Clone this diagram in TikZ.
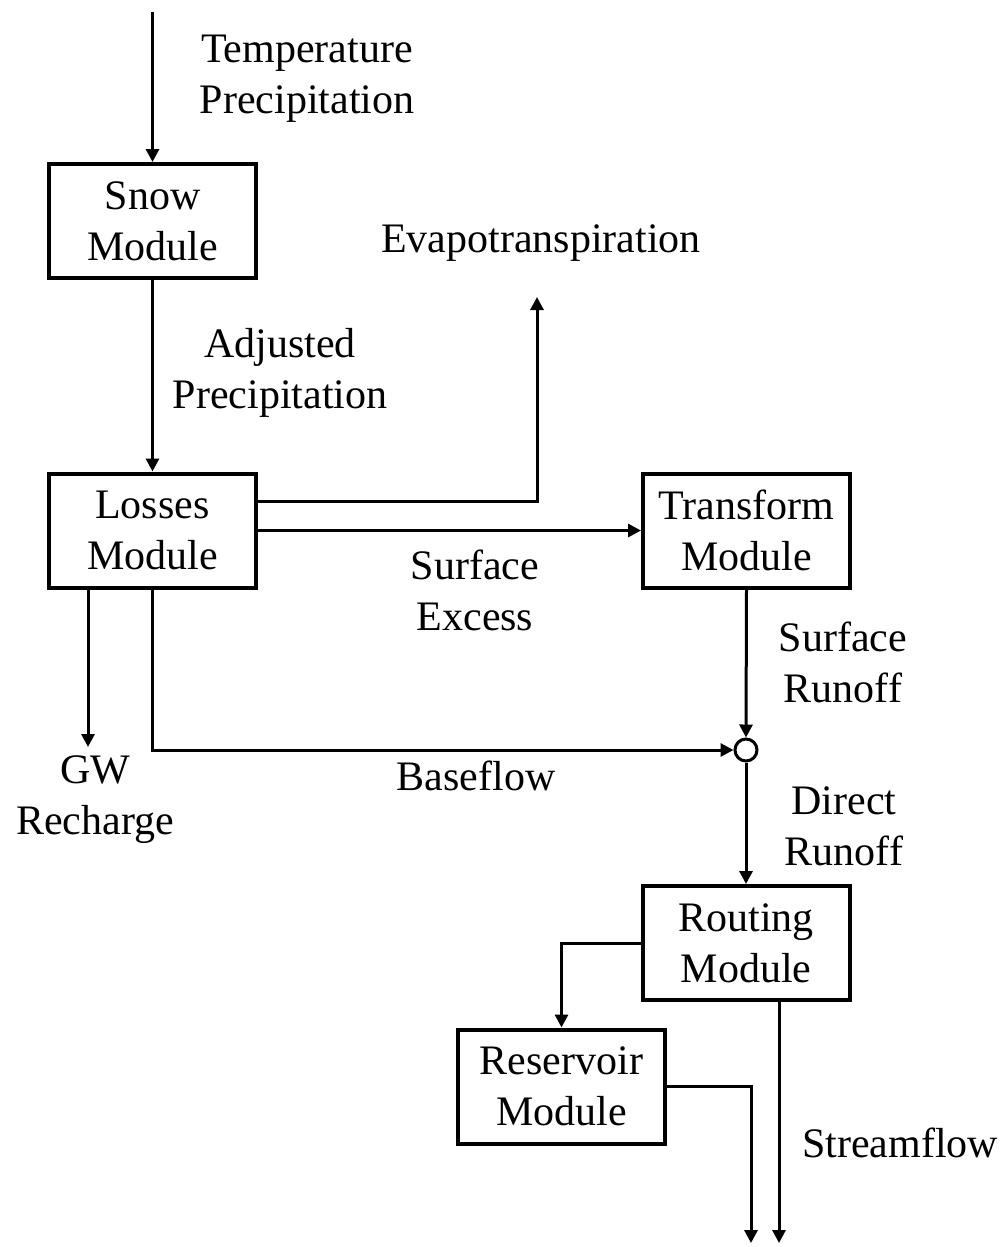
\documentclass[tikz,border=0pt]{standalone}
\usepackage{fontspec}
\setmainfont{Liberation Serif}
\usetikzlibrary{arrows.meta,calc}
\begin{document}
\begin{tikzpicture}[x=1pt,y=-1pt,
  module/.style={draw,line width=4pt,minimum width=207pt,minimum height=114pt,align=center,inner sep=0pt,font=\fontsize{42}{51}\selectfont},
  lbl/.style={align=center,inner sep=0pt,font=\fontsize{42}{51}\selectfont},
  flow/.style={line width=3pt,-{Triangle[length=13pt,width=13pt]}},
  junction/.style={draw,circle,line width=3pt,minimum size=22pt,inner sep=0pt}]
\useasboundingbox (0,0) rectangle (1005,1247);
% modules
\node[module] (snow) at (152.5,221) {Snow\\Module};
\node[module] (losses) at (152.5,530.5) {Losses\\Module};
\node[module] (transform) at (746.5,530.5) {Transform\\Module};
\node[module] (routing) at (746,943) {Routing\\Module};
\node[module] (reservoir) at (561.5,1086.5) {Reservoir\\Module};
\node[junction] (junc) at (746,750) {};
% free ends
\coordinate (intop) at (152.5,12);
\coordinate (evapend) at (537,297);
\coordinate (gwend) at (88,747);
\coordinate (resend) at (751,1243);
\coordinate (sfend) at (779,1243);
% connectors
\draw[flow] (intop) -- (snow.north);
\draw[flow] (snow.south) -- (losses.north);
\draw[flow] ($(losses.east)+(0,-29)$) -| (evapend);
\draw[flow] (losses.east) -- (transform.west);
\draw[flow] (transform.south) -- (junc.north);
\draw[flow] (losses.south) |- (junc.west);
\draw[flow] (losses.south -| gwend) -- (gwend);
\draw[flow] (junc.south) -- (routing.north);
\draw[flow] (routing.west) -| (reservoir.north);
\draw[flow] (reservoir.east) -| (resend);
\draw[flow] (routing.south -| sfend) -- (sfend);
% labels
\node[lbl] (tp) at (307,79) {Temperature\\Precipitation};
\node[lbl,anchor=base] (evap) at (541,252) {Evapotranspiration};
\node[lbl] (adj) at (280,373) {Adjusted\\Precipitation};
\node[lbl] (sx) at (475,590) {Surface\\Excess};
\node[lbl] (sr) at (843,662) {Surface\\Runoff};
\node[lbl,anchor=base] (bf) at (476,790) {Baseflow};
\node[lbl] (dr) at (844,826) {Direct\\Runoff};
\node[lbl] (gw) at (95,800) {GW\\Recharge};
\node[lbl,anchor=base west] (sf) at (802,1157) {Streamflow};
\end{tikzpicture}
\end{document}
